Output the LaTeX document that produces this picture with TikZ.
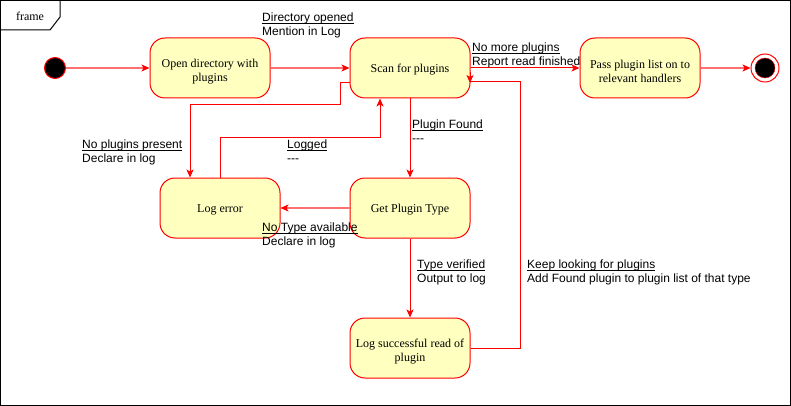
\documentclass[tikz,border=0pt]{standalone}
\usepackage{fontspec}
\setmainfont{Liberation Serif}
\setsansfont{Liberation Sans}
\usetikzlibrary{arrows.meta}
\definecolor{boxfill}{HTML}{FFFFC0}
\definecolor{boxline}{HTML}{FF0000}
\definecolor{softred}{HTML}{FF7070}
\newcommand{\ulbl}[1]{\setbox0\hbox{#1}\rlap{\rule[-2pt]{\wd0}{0.7pt}}\box0}
\newcommand{\lift}{\rule{0pt}{16pt}}
\begin{document}
\begin{tikzpicture}[x=1pt,y=-1pt,
 state/.style={draw=boxline, fill=boxfill, rounded corners=15pt, minimum width=120pt, minimum height=60pt, align=center, font=\fontsize{12}{14}\selectfont, line width=1pt, inner sep=0pt},
 lbl/.style={anchor=north west, inner sep=0pt, align=left, font=\sffamily\fontsize{12}{14}\selectfont},
 tipred/.style={-{Stealth[length=8pt,width=7pt,inset=2pt,color=red]}},
 redline/.style={draw=red, line width=1pt, tipred},
 softline/.style={draw=softred, line width=1.3pt, tipred}]
\useasboundingbox (0,0) rectangle (791,406);
% frame
\draw[line width=1pt] (0.5,0.5) rectangle (790.5,405.5);
\draw[line width=1pt] (0.5,30) -- (50,30) -- (60,17) -- (60,0.5);
\node[font=\fontsize{12}{14}\selectfont, inner sep=0pt] (framelbl) at (30,16) {frame};
% states
\node[circle, fill=black, draw=red, line width=1pt, minimum size=21pt, inner sep=0pt] (init) at (55,68) {};
\node[state] (open) at (210,68) {\lift Open directory with\\plugins};
\node[state] (scan) at (410,68) {\rule[-3.5pt]{0pt}{16pt}Scan for plugins};
\node[state] (pass) at (640,68) {\lift Pass plugin list on to\\relevant handlers};
\node[circle, draw=red, fill=white, line width=1pt, minimum size=28pt, inner sep=0pt] (final) at (765,68) {};
\node[circle, fill=black, draw=red, line width=0.4pt, minimum size=20pt, inner sep=0pt] (finalin) at (765,68) {};
\node[state] (logerr) at (220,208) {\rule[-3.5pt]{0pt}{16pt}Log error};
\node[state] (get) at (410,208) {\rule[-3.5pt]{0pt}{16pt}Get Plugin Type};
\node[state] (logok) at (410,348) {\lift Log successful read of\\plugin};
% connectors
\draw[softline] (init) -- (open);
\draw[softline] (open) -- (scan);
\draw[redline] (scan) -- (pass);
\draw[softline] (pass) -- (final);
\draw[redline] (scan) -- (get);
\draw[softline] (get) -- (logerr);
\draw[redline] (get) -- (logok);
\coordinate (a1) at (340,105);
\draw[redline] ([yshift=-15pt]scan.west) -| (a1) -| ([xshift=-30pt]logerr.north);
\coordinate (a2) at (380,138);
\draw[redline] (logerr.north) |- (a2) -- ([xshift=-30pt]scan.south);
\coordinate (k1) at (520,82);
\coordinate (k2) at (470,82);
\coordinate (k3) at (470,72);
\coordinate (k4) at (470,83);
\draw[draw=red, line width=1pt] (logok.east) -| (k1) -- (k2);
\draw[redline] (k3) -- (k4);
% labels
\node[lbl] (l1) at (262,13) {\ulbl{Directory opened}\\Mention in Log};
\node[lbl] (l2) at (472,43) {\ulbl{No more plugins}\\Report read finished};
\node[lbl] (l3) at (412,120) {\ulbl{Plugin Found}\\-{}-{}-};
\node[lbl] (l4) at (82,140) {\ulbl{No plugins present}\\Declare in log};
\node[lbl] (l5) at (287,140) {\ulbl{Logged}\\-{}-{}-};
\node[lbl] (l6) at (262,223) {\ulbl{No Type available}\\Declare in log};
\node[lbl] (l7) at (417,260) {\ulbl{Type verified}\\Output to log};
\node[lbl] (l8) at (527,260) {\ulbl{Keep looking for plugins}\\Add Found plugin to plugin list of that type};
\end{tikzpicture}
\end{document}
